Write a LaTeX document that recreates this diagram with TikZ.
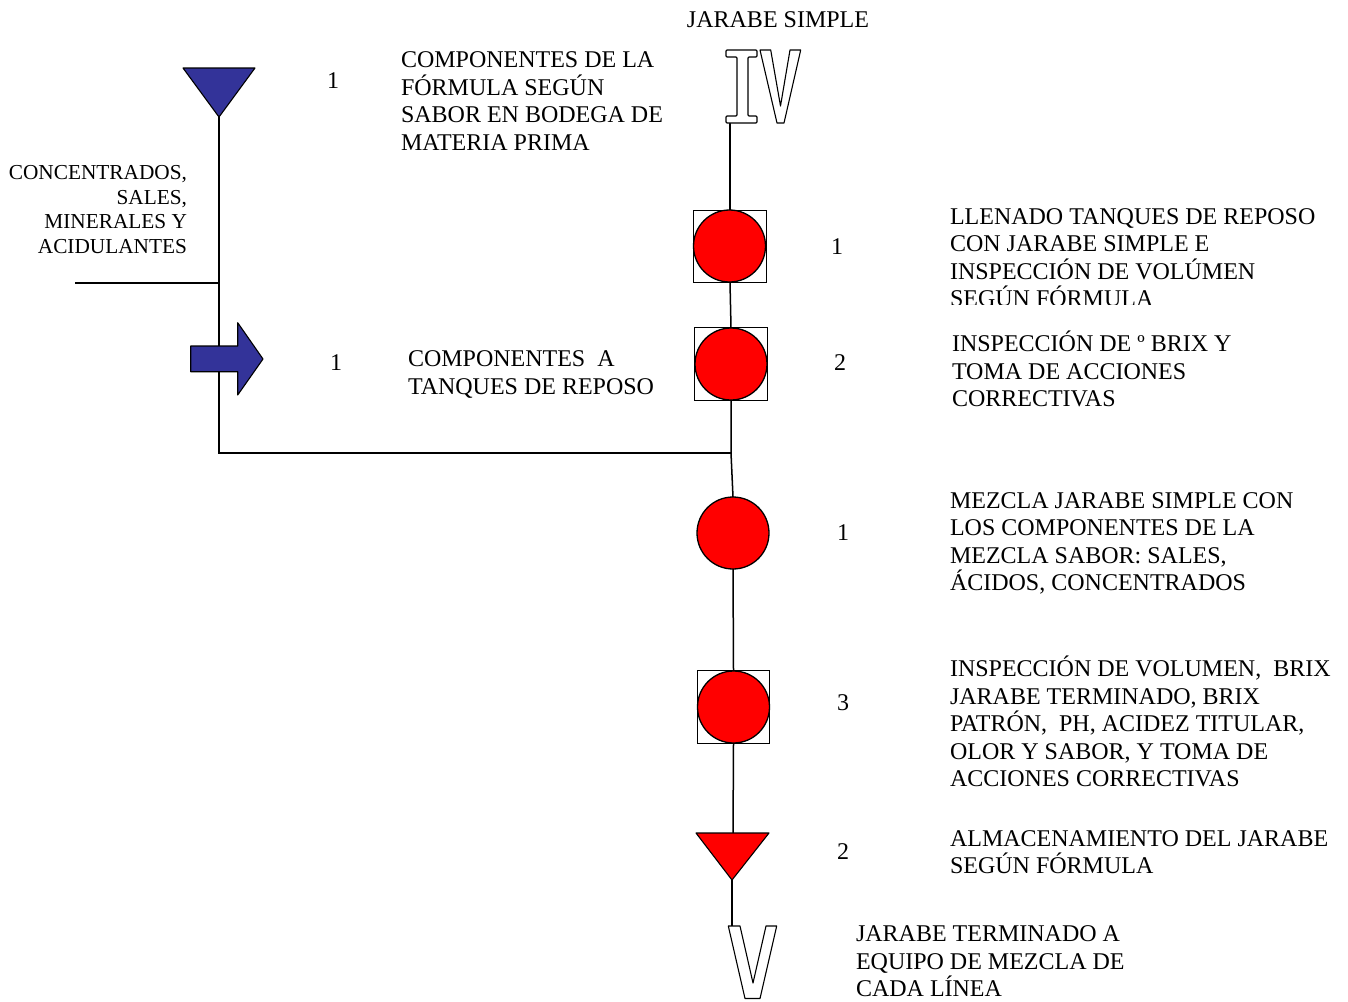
\documentclass[tikz,border=0pt]{standalone}
\usepackage{fontspec}
\setmainfont{Liberation Serif}
\definecolor{flowblue}{RGB}{51,51,153}
\definecolor{flowred}{RGB}{255,0,0}
% fixed first-line height so that block tops line up with baselines
\newcommand{\tline}{\rule{0pt}{23pt}}
\newcommand{\sline}{\rule{0pt}{20pt}}

\begin{document}
\begin{tikzpicture}[x=1pt,y=-1pt,
  every node/.style={inner sep=0pt, outer sep=0pt},
  txt/.style={font=\fontsize{24}{27.6}\selectfont, align=left, anchor=north west},
  smalltxt/.style={font=\fontsize{21.3}{24.7}\selectfont, align=right, anchor=north east},
  num/.style={font=\fontsize{24}{27.6}\selectfont, anchor=base},
  flow/.style={line width=1.5pt},
  opcirc/.style={circle, draw, line width=1.3pt, fill=flowred, minimum size=72pt},
  insbox/.style={rectangle, draw, line width=1.3pt, minimum size=72.5pt},
  glyph/.style={draw, line width=1.1pt, fill=white, line join=round},
  bluefill/.style={draw, line width=1.1pt, fill=flowblue, line join=round},
  redfill/.style={draw, line width=1.1pt, fill=flowred, line join=round}
]
\useasboundingbox (0,0) rectangle (1348,1001);

% ---------- anchor points ----------
\coordinate (tbA) at (219,117);   % apex of the raw-material storage triangle
\coordinate (inL) at (75,283);    % free end of the additives line
\coordinate (j) at (731,453);     % junction with the main line
\coordinate (ivB) at (730,123);   % foot of the "IV" mark
\coordinate (trT) at (733,833);   % top of the storage triangle
\coordinate (trA) at (732,880);   % apex of the storage triangle
\coordinate (vT) at (732,926);    % top of the "V" mark

% ---------- operations / inspections ----------
\node[insbox] (s1) at (730,246.5) {};
\node[opcirc] (c1) at (729.5,246) {};
\node[insbox] (s2) at (731,364) {};
\node[opcirc] (c2) at (731,364) {};
\node[opcirc] (c3) at (733,533) {};
\node[insbox] (s4) at (733.5,707) {};
\node[opcirc] (c4) at (733.5,707) {};

% ---------- flow lines ----------
\draw[flow] (tbA) |- (j);
\draw[flow] (inL) -- (inL -| tbA);
\draw[flow] (ivB) -- (s1.north);
\draw[flow] (s1.south) -- (s2.north);
\draw[flow] (s2.south) -- (j) -- (c3.north);
\draw[flow] (c3.south) -- (s4.north);
\draw[flow] (s4.south) -- (trT);
\draw[flow] (trA) -- (vT);

% ---------- storage triangles ----------
\draw[bluefill] (183,68) -- (255,68) -- (tbA) -- cycle;
\draw[redfill] (696,833) -- (769,833) -- (trA) -- cycle;

% ---------- transport arrow ----------
\draw[bluefill] (190.7,346) -- (237.7,346) -- (237.7,322.7) -- (263,359)
  -- (237.7,395) -- (237.7,371.7) -- (190.7,371.7) -- cycle;

% ---------- outlined "IV" and "V" marks ----------
\draw[glyph, rounded corners=1pt] (726,50) -- (757,50) -- (757,57) -- (748,57)
  -- (748,116) -- (757,116) -- (757,123) -- (726,123) -- (726,116) -- (737,116)
  -- (737,57) -- (726,57) -- cycle;
\draw[glyph] (760,50) -- (770.7,50) -- (780.5,106) -- (790,50) -- (800.7,50)
  -- (784,123) -- (777,123) -- cycle;
\draw[glyph] (728.3,926) -- (740,926) -- (753,983) -- (766,926) -- (776.7,926)
  -- (760,998.5) -- (745,998.5) -- cycle;

% ---------- labels ----------
\node[num] (tJS) at (778,27.3) {JARABE SIMPLE};
\node[txt] (tMP) at (401,44.5) {\tline COMPONENTES DE LA\\FÓRMULA SEGÚN\\SABOR EN BODEGA DE\\MATERIA PRIMA};
\node[smalltxt] (tCS) at (187,159.5) {\sline CONCENTRADOS,\\SALES,\\MINERALES Y\\ACIDULANTES};
\node[txt] (tTR) at (408,343.5) {\tline COMPONENTES~ A\\TANQUES DE REPOSO};
\begin{scope}
  \clip (900,190) rectangle (1348,304);
  \node[txt] (tLL) at (950,201) {\tline LLENADO TANQUES DE REPOSO\\CON JARABE SIMPLE E\\INSPECCIÓN DE VOLÚMEN\\SEGÚN FÓRMULA};
\end{scope}
\node[txt] (tIB) at (952,328.5) {\tline INSPECCIÓN DE º BRIX Y\\TOMA DE ACCIONES\\CORRECTIVAS};
\node[txt] (tMZ) at (950,485) {\tline MEZCLA JARABE SIMPLE CON\\LOS COMPONENTES DE LA\\MEZCLA SABOR: SALES,\\ÁCIDOS, CONCENTRADOS};
\node[txt] (tIV) at (950,653.5) {\tline INSPECCIÓN DE VOLUMEN,~ BRIX\\JARABE TERMINADO, BRIX\\PATRÓN,~ PH, ACIDEZ TITULAR,\\OLOR Y SABOR, Y TOMA DE\\ACCIONES CORRECTIVAS};
\node[txt] (tAL) at (950,823) {\tline ALMACENAMIENTO DEL JARABE\\SEGÚN FÓRMULA};
\node[txt] (tJT) at (856,918.5) {\tline JARABE TERMINADO A\\EQUIPO DE MEZCLA DE\\CADA LÍNEA};

% ---------- counters ----------
\node[num] (n1) at (333,88) {1};
\node[num] (n2) at (336,370) {1};
\node[num] (n3) at (837,254) {1};
\node[num] (n4) at (840,370) {2};
\node[num] (n5) at (843,540) {1};
\node[num] (n6) at (843,710) {3};
\node[num] (n7) at (843,859) {2};
\end{tikzpicture}
\end{document}
